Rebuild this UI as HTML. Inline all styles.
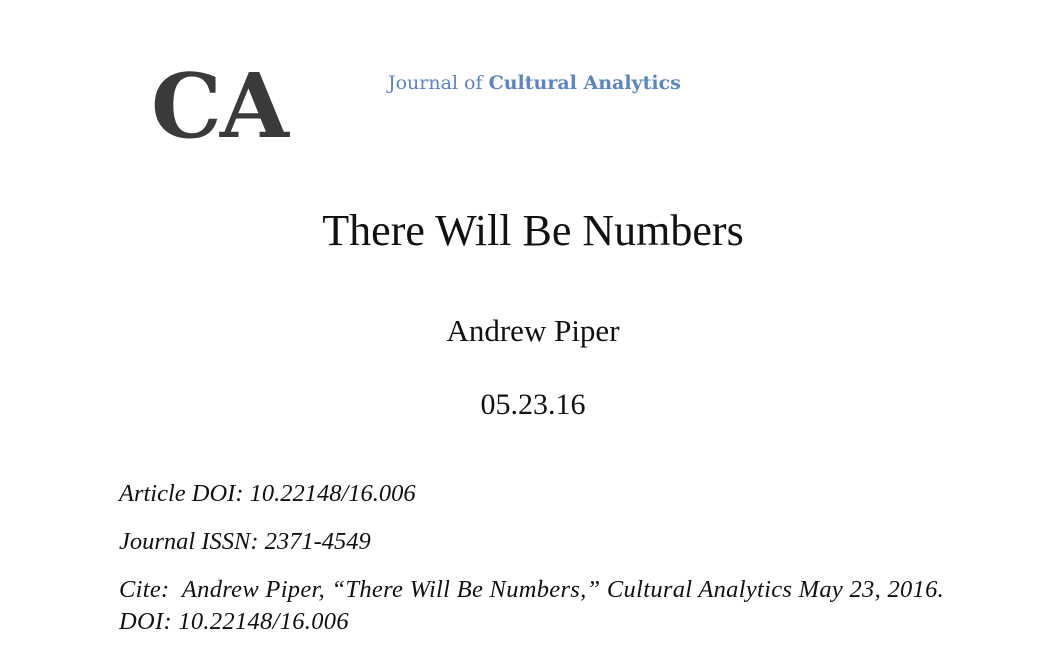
<!DOCTYPE html>
<html><head><meta charset="utf-8"><style>
body{margin:0;width:1052px;height:664px;background:#fff;overflow:hidden;font-family:"Liberation Serif",serif;color:#111;position:relative}
.a{position:absolute;white-space:nowrap;line-height:1}
</style></head><body>
<div class="a" style="left:151px;top:61px;font-size:89px;font-weight:bold;font-family:'DejaVu Serif',serif;color:#3a3a3a;letter-spacing:-2px">CA</div>
<div class="a" style="left:388px;top:74px;font-size:19px;font-family:'DejaVu Serif',serif;color:#5b84c4">Journal of <b>Cultural Analytics</b></div>
<div class="a" style="left:0;width:1052px;text-align:center;top:209px;font-size:44px;padding-left:14px;box-sizing:border-box">There Will Be Numbers</div>
<div class="a" style="left:0;width:1052px;text-align:center;top:315px;font-size:31px;padding-left:14px;box-sizing:border-box">Andrew Piper</div>
<div class="a" style="left:0;width:1052px;text-align:center;top:390px;font-size:30px;padding-left:14px;box-sizing:border-box">05.23.16</div>
<div class="a" style="left:119px;top:482px;font-size:24.5px;font-style:italic">Article DOI: 10.22148/16.006</div>
<div class="a" style="left:119px;top:530px;font-size:24.5px;font-style:italic">Journal ISSN: 2371-4549</div>
<div class="a" style="left:119px;top:574px;font-size:24.5px;font-style:italic;line-height:32px;white-space:normal;width:900px;letter-spacing:0.3px">Cite:&nbsp; Andrew Piper, “There Will Be Numbers,” Cultural Analytics May 23, 2016.<br>DOI: 10.22148/16.006</div>
</body></html>
